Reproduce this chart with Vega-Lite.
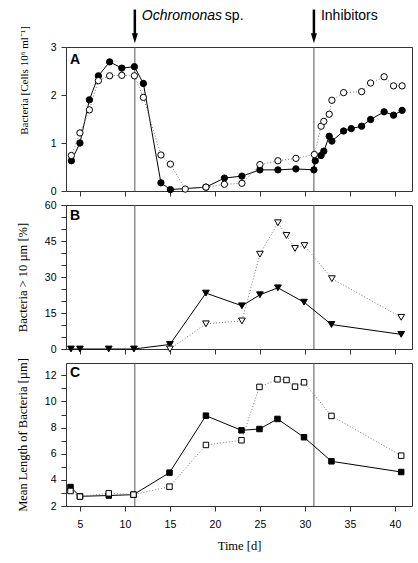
{
  "$schema": "https://vega.github.io/schema/vega-lite/v6.json",
  "padding": {"left": 15, "top": 7, "right": 12, "bottom": 10},
  "background": "white",
  "bounds": "flush",
  "spacing": 14,
  "config": {
    "view": {"stroke": "#333", "strokeWidth": 1},
    "axis": {
      "grid": false,
      "domain": false,
      "tickColor": "#333",
      "tickSize": 5,
      "labelFont": "Liberation Sans",
      "labelFontSize": 10.5,
      "labelColor": "black",
      "labelPadding": 5,
      "labelOverlap": false,
      "labelFlush": false,
      "titleFont": "Liberation Serif",
      "titleFontSize": 12.5,
      "titleFontWeight": "normal",
      "titleColor": "black"
    }
  },
  "datasets": {
    "A": [
      {"day": 4.05, "value": 0.63, "series": "filled"},
      {"day": 5.0, "value": 1.0, "series": "filled"},
      {"day": 6.05, "value": 1.9, "series": "filled"},
      {"day": 7.05, "value": 2.4, "series": "filled"},
      {"day": 8.3, "value": 2.69, "series": "filled"},
      {"day": 9.65, "value": 2.56, "series": "filled"},
      {"day": 11.05, "value": 2.59, "series": "filled"},
      {"day": 12.05, "value": 2.24, "series": "filled"},
      {"day": 14.0, "value": 0.17, "series": "filled"},
      {"day": 15.05, "value": 0.03, "series": "filled"},
      {"day": 19.0, "value": 0.08, "series": "filled"},
      {"day": 21.05, "value": 0.27, "series": "filled"},
      {"day": 23.0, "value": 0.31, "series": "filled"},
      {"day": 25.0, "value": 0.44, "series": "filled"},
      {"day": 27.0, "value": 0.44, "series": "filled"},
      {"day": 29.0, "value": 0.46, "series": "filled"},
      {"day": 31.0, "value": 0.44, "series": "filled"},
      {"day": 31.15, "value": 0.63, "series": "filled"},
      {"day": 31.8, "value": 0.74, "series": "filled"},
      {"day": 32.1, "value": 0.83, "series": "filled"},
      {"day": 32.7, "value": 1.14, "series": "filled"},
      {"day": 33.0, "value": 1.04, "series": "filled"},
      {"day": 34.3, "value": 1.25, "series": "filled"},
      {"day": 35.15, "value": 1.3, "series": "filled"},
      {"day": 36.3, "value": 1.35, "series": "filled"},
      {"day": 37.3, "value": 1.49, "series": "filled"},
      {"day": 38.8, "value": 1.65, "series": "filled"},
      {"day": 39.85, "value": 1.58, "series": "filled"},
      {"day": 40.8, "value": 1.68, "series": "filled"},
      {"day": 4.05, "value": 0.74, "series": "open"},
      {"day": 5.0, "value": 1.21, "series": "open"},
      {"day": 6.05, "value": 1.69, "series": "open"},
      {"day": 7.05, "value": 2.3, "series": "open"},
      {"day": 8.3, "value": 2.4, "series": "open"},
      {"day": 9.65, "value": 2.41, "series": "open"},
      {"day": 11.05, "value": 2.4, "series": "open"},
      {"day": 12.05, "value": 1.95, "series": "open"},
      {"day": 14.0, "value": 0.75, "series": "open"},
      {"day": 15.05, "value": 0.56, "series": "open"},
      {"day": 16.7, "value": 0.04, "series": "open"},
      {"day": 19.0, "value": 0.08, "series": "open"},
      {"day": 21.05, "value": 0.14, "series": "open"},
      {"day": 23.0, "value": 0.16, "series": "open"},
      {"day": 25.0, "value": 0.55, "series": "open"},
      {"day": 27.0, "value": 0.63, "series": "open"},
      {"day": 29.0, "value": 0.68, "series": "open"},
      {"day": 31.05, "value": 0.76, "series": "open"},
      {"day": 31.8, "value": 1.35, "series": "open"},
      {"day": 32.1, "value": 1.45, "series": "open"},
      {"day": 32.7, "value": 1.6, "series": "open"},
      {"day": 33.0, "value": 1.89, "series": "open"},
      {"day": 34.3, "value": 2.05, "series": "open"},
      {"day": 36.3, "value": 2.07, "series": "open"},
      {"day": 37.3, "value": 2.25, "series": "open"},
      {"day": 38.8, "value": 2.38, "series": "open"},
      {"day": 39.85, "value": 2.19, "series": "open"},
      {"day": 40.8, "value": 2.19, "series": "open"}
    ],
    "B": [
      {"day": 4.0, "value": 0, "series": "filled"},
      {"day": 5.0, "value": 0, "series": "filled"},
      {"day": 8.2, "value": 0, "series": "filled"},
      {"day": 11.0, "value": 0, "series": "filled"},
      {"day": 15.0, "value": 1.9, "series": "filled"},
      {"day": 19.0, "value": 23.3, "series": "filled"},
      {"day": 23.0, "value": 18.0, "series": "filled"},
      {"day": 25.0, "value": 22.6, "series": "filled"},
      {"day": 27.0, "value": 25.5, "series": "filled"},
      {"day": 29.9, "value": 19.5, "series": "filled"},
      {"day": 32.95, "value": 10.2, "series": "filled"},
      {"day": 40.7, "value": 6.1, "series": "filled"},
      {"day": 15.0, "value": 0, "series": "open"},
      {"day": 19.0, "value": 10.5, "series": "open"},
      {"day": 23.0, "value": 11.7, "series": "open"},
      {"day": 25.0, "value": 39.5, "series": "open"},
      {"day": 27.0, "value": 52.6, "series": "open"},
      {"day": 27.95, "value": 47.3, "series": "open"},
      {"day": 28.9, "value": 41.9, "series": "open"},
      {"day": 29.95, "value": 43.1, "series": "open"},
      {"day": 33.0, "value": 29.3, "series": "open"},
      {"day": 40.7, "value": 13.2, "series": "open"}
    ],
    "C": [
      {"day": 3.95, "value": 3.45, "series": "filled"},
      {"day": 5.0, "value": 2.74, "series": "filled"},
      {"day": 8.2, "value": 2.8, "series": "filled"},
      {"day": 10.95, "value": 2.87, "series": "filled"},
      {"day": 14.95, "value": 4.55, "series": "filled"},
      {"day": 19.0, "value": 8.91, "series": "filled"},
      {"day": 22.95, "value": 7.79, "series": "filled"},
      {"day": 24.95, "value": 7.89, "series": "filled"},
      {"day": 26.95, "value": 8.66, "series": "filled"},
      {"day": 29.9, "value": 7.26, "series": "filled"},
      {"day": 32.95, "value": 5.42, "series": "filled"},
      {"day": 40.7, "value": 4.6, "series": "filled"},
      {"day": 3.95, "value": 3.15, "series": "open"},
      {"day": 5.0, "value": 2.72, "series": "open"},
      {"day": 8.2, "value": 2.97, "series": "open"},
      {"day": 10.95, "value": 2.87, "series": "open"},
      {"day": 14.95, "value": 3.48, "series": "open"},
      {"day": 19.0, "value": 6.67, "series": "open"},
      {"day": 22.95, "value": 7.03, "series": "open"},
      {"day": 24.95, "value": 11.11, "series": "open"},
      {"day": 26.95, "value": 11.69, "series": "open"},
      {"day": 27.95, "value": 11.64, "series": "open"},
      {"day": 28.9, "value": 11.13, "series": "open"},
      {"day": 29.9, "value": 11.46, "series": "open"},
      {"day": 32.95, "value": 8.89, "series": "open"},
      {"day": 40.7, "value": 5.85, "series": "open"}
    ],
    "events": [
      {"day": 11.1, "top": 3.78, "shaftEnd": 3.2, "head": 3.18, "textY": 3.556, "text": "Ochromonas", "after": "sp."},
      {"day": 31.0, "top": 3.78, "shaftEnd": 3.2, "head": 3.18, "textY": 3.556, "text": "Inhibitors", "after": ""}
    ],
    "letters": [
      {"panel": "A", "day": 3.9, "value": 2.65},
      {"panel": "B", "day": 3.9, "value": 53.7},
      {"panel": "C", "day": 3.9, "value": 11.85}
    ]
  },
  "vconcat": [
    {
      "width": 346,
      "height": 144,
      "layer": [
        {
          "data": {"name": "events"},
          "mark": {"type": "rule", "color": "#555", "strokeWidth": 1},
          "encoding": {
            "x": {"field": "day", "type": "quantitative", "scale": {"domain": [3.45, 41.9], "nice": false, "zero": false},
              "axis": {"values": [5, 7.5, 10, 12.5, 15, 17.5, 20, 22.5, 25, 27.5, 30, 32.5, 35, 37.5, 40], "labels": false, "title": null}}
          }
        },
        {
          "data": {"name": "A"},
          "transform": [{"filter": "datum.series === 'filled'"}],
          "mark": {"type": "line", "color": "black", "strokeWidth": 1},
          "encoding": {
            "x": {"field": "day", "type": "quantitative"},
            "y": {"field": "value", "type": "quantitative", "scale": {"domain": [0, 3], "nice": false},
              "axis": {"values": [0, 0.5, 1, 1.5, 2, 2.5, 3], "labelOverlap": false, "labelFlush": false, "labelExpr": "datum.value % 1 === 0 ? datum.label : ''", "title": "Bacteria [Cells 10⁶ ml⁻¹]", "titleFontSize": 11, "titlePadding": 21, "titleY": 33}}
          }
        },
        {
          "data": {"name": "A"},
          "transform": [{"filter": "datum.series === 'open'"}],
          "mark": {"type": "line", "color": "#777", "strokeWidth": 1, "strokeDash": [1, 2]},
          "encoding": {
            "x": {"field": "day", "type": "quantitative"},
            "y": {"field": "value", "type": "quantitative"}
          }
        },
        {
          "data": {"name": "A"},
          "transform": [{"filter": "datum.series === 'filled'"}],
          "mark": {"type": "point", "shape": "circle", "size": 40, "filled": true, "fill": "black", "stroke": "black", "strokeWidth": 1, "opacity": 1},
          "encoding": {
            "x": {"field": "day", "type": "quantitative"},
            "y": {"field": "value", "type": "quantitative"}
          }
        },
        {
          "data": {"name": "A"},
          "transform": [{"filter": "datum.series === 'open'"}],
          "mark": {"type": "point", "shape": "circle", "size": 40, "filled": true, "fill": "white", "stroke": "black", "strokeWidth": 1, "opacity": 1},
          "encoding": {
            "x": {"field": "day", "type": "quantitative"},
            "y": {"field": "value", "type": "quantitative"}
          }
        },
        {
          "data": {"name": "events"},
          "mark": {"type": "rule", "color": "black", "strokeWidth": 2.5},
          "encoding": {
            "x": {"field": "day", "type": "quantitative"},
            "y": {"field": "top", "type": "quantitative"},
            "y2": {"field": "shaftEnd"}
          }
        },
        {
          "data": {"name": "events"},
          "mark": {"type": "point", "shape": "M-0.6,-1L0.6,-1L0,1Z", "size": 100, "filled": true, "fill": "black", "stroke": null, "opacity": 1},
          "encoding": {
            "x": {"field": "day", "type": "quantitative"},
            "y": {"field": "head", "type": "quantitative"}
          }
        },
        {
          "data": {"name": "events"},
          "transform": [{"filter": "datum.after !== ''"}],
          "mark": {"type": "text", "align": "left", "baseline": "alphabetic", "dx": 7, "font": "Liberation Sans", "fontSize": 14, "fontStyle": "italic", "color": "black"},
          "encoding": {
            "x": {"field": "day", "type": "quantitative"},
            "y": {"field": "textY", "type": "quantitative"},
            "text": {"field": "text"}
          }
        },
        {
          "data": {"name": "events"},
          "transform": [{"filter": "datum.after !== ''"}],
          "mark": {"type": "text", "align": "left", "baseline": "alphabetic", "dx": 90, "font": "Liberation Sans", "fontSize": 14, "color": "black"},
          "encoding": {
            "x": {"field": "day", "type": "quantitative"},
            "y": {"field": "textY", "type": "quantitative"},
            "text": {"field": "after"}
          }
        },
        {
          "data": {"name": "events"},
          "transform": [{"filter": "datum.after === ''"}],
          "mark": {"type": "text", "align": "left", "baseline": "alphabetic", "dx": 7, "font": "Liberation Sans", "fontSize": 14, "color": "black"},
          "encoding": {
            "x": {"field": "day", "type": "quantitative"},
            "y": {"field": "textY", "type": "quantitative"},
            "text": {"field": "text"}
          }
        },
        {
          "data": {"name": "letters"},
          "transform": [{"filter": "datum.panel === 'A'"}],
          "mark": {"type": "text", "align": "left", "baseline": "alphabetic", "font": "Liberation Sans", "fontSize": 14, "fontWeight": "bold", "color": "black"},
          "encoding": {
            "x": {"field": "day", "type": "quantitative"},
            "y": {"field": "value", "type": "quantitative"},
            "text": {"field": "panel"}
          }
        }
      ]
    },
    {
      "width": 346,
      "height": 144,
      "resolve": {"axis": {"y": "independent"}},
      "layer": [
        {
          "data": {"name": "events"},
          "mark": {"type": "rule", "color": "#555", "strokeWidth": 1},
          "encoding": {
            "x": {"field": "day", "type": "quantitative", "scale": {"domain": [3.45, 41.9], "nice": false, "zero": false},
              "axis": {"values": [5, 7.5, 10, 12.5, 15, 17.5, 20, 22.5, 25, 27.5, 30, 32.5, 35, 37.5, 40], "labels": false, "title": null}}
          }
        },
        {
          "data": {"name": "B"},
          "transform": [{"filter": "datum.series === 'filled'"}],
          "mark": {"type": "line", "color": "black", "strokeWidth": 1},
          "encoding": {
            "x": {"field": "day", "type": "quantitative"},
            "y": {"field": "value", "type": "quantitative", "scale": {"domain": [0, 60], "nice": false},
              "axis": {"orient": "left", "values": [0, 15, 30, 45, 60], "title": "Bacteria > 10 µm [%]", "titlePadding": 15}}
          }
        },
        {
          "data": {"name": "B"},
          "transform": [{"filter": "datum.series === 'open'"}],
          "mark": {"type": "line", "color": "#777", "strokeWidth": 1, "strokeDash": [1, 2]},
          "encoding": {
            "x": {"field": "day", "type": "quantitative"},
            "y": {"field": "value", "type": "quantitative",
              "axis": {"orient": "left", "values": [0, 5, 10, 15, 20, 25, 30, 35, 40, 45, 50, 55, 60], "labels": false, "title": null}}
          }
        },
        {
          "data": {"name": "B"},
          "transform": [{"filter": "datum.series === 'filled'"}],
          "mark": {"type": "point", "shape": "triangle-down", "size": 45, "filled": true, "fill": "black", "stroke": "black", "strokeWidth": 1, "opacity": 1},
          "encoding": {
            "x": {"field": "day", "type": "quantitative"},
            "y": {"field": "value", "type": "quantitative", "axis": null}
          }
        },
        {
          "data": {"name": "B"},
          "transform": [{"filter": "datum.series === 'open'"}],
          "mark": {"type": "point", "shape": "triangle-down", "size": 45, "filled": true, "fill": "white", "stroke": "black", "strokeWidth": 1, "opacity": 1},
          "encoding": {
            "x": {"field": "day", "type": "quantitative"},
            "y": {"field": "value", "type": "quantitative", "axis": null}
          }
        },
        {
          "data": {"name": "letters"},
          "transform": [{"filter": "datum.panel === 'B'"}],
          "mark": {"type": "text", "align": "left", "baseline": "alphabetic", "font": "Liberation Sans", "fontSize": 14, "fontWeight": "bold", "color": "black"},
          "encoding": {
            "x": {"field": "day", "type": "quantitative"},
            "y": {"field": "value", "type": "quantitative", "axis": null},
            "text": {"field": "panel"}
          }
        }
      ]
    },
    {
      "width": 346,
      "height": 143,
      "resolve": {"axis": {"y": "independent"}},
      "layer": [
        {
          "data": {"name": "events"},
          "mark": {"type": "rule", "color": "#555", "strokeWidth": 1},
          "encoding": {
            "x": {"field": "day", "type": "quantitative", "scale": {"domain": [3.45, 41.9], "nice": false, "zero": false},
              "axis": {"values": [5, 7.5, 10, 12.5, 15, 17.5, 20, 22.5, 25, 27.5, 30, 32.5, 35, 37.5, 40], "labelOverlap": false, "labelFlush": false, "labelExpr": "datum.value % 5 === 0 ? datum.label : ''", "labelPadding": 8, "title": "Time [d]", "titlePadding": 10}}
          }
        },
        {
          "data": {"name": "C"},
          "transform": [{"filter": "datum.series === 'filled'"}],
          "mark": {"type": "line", "color": "black", "strokeWidth": 1},
          "encoding": {
            "x": {"field": "day", "type": "quantitative"},
            "y": {"field": "value", "type": "quantitative", "scale": {"domain": [2, 12.94], "nice": false, "zero": false},
              "axis": {"orient": "left", "values": [2, 4, 6, 8, 10, 12], "title": "Mean Length of Bacteria [µm]", "titlePadding": 15}}
          }
        },
        {
          "data": {"name": "C"},
          "transform": [{"filter": "datum.series === 'open'"}],
          "mark": {"type": "line", "color": "#777", "strokeWidth": 1, "strokeDash": [1, 2]},
          "encoding": {
            "x": {"field": "day", "type": "quantitative"},
            "y": {"field": "value", "type": "quantitative",
              "axis": {"orient": "left", "values": [2, 3, 4, 5, 6, 7, 8, 9, 10, 11, 12], "labels": false, "title": null}}
          }
        },
        {
          "data": {"name": "C"},
          "transform": [{"filter": "datum.series === 'filled'"}],
          "mark": {"type": "point", "shape": "square", "size": 30, "filled": true, "fill": "black", "stroke": "black", "strokeWidth": 1, "opacity": 1},
          "encoding": {
            "x": {"field": "day", "type": "quantitative"},
            "y": {"field": "value", "type": "quantitative", "axis": null}
          }
        },
        {
          "data": {"name": "C"},
          "transform": [{"filter": "datum.series === 'open'"}],
          "mark": {"type": "point", "shape": "square", "size": 30, "filled": true, "fill": "white", "stroke": "black", "strokeWidth": 1, "opacity": 1},
          "encoding": {
            "x": {"field": "day", "type": "quantitative"},
            "y": {"field": "value", "type": "quantitative", "axis": null}
          }
        },
        {
          "data": {"name": "letters"},
          "transform": [{"filter": "datum.panel === 'C'"}],
          "mark": {"type": "text", "align": "left", "baseline": "alphabetic", "font": "Liberation Sans", "fontSize": 14, "fontWeight": "bold", "color": "black"},
          "encoding": {
            "x": {"field": "day", "type": "quantitative"},
            "y": {"field": "value", "type": "quantitative", "axis": null},
            "text": {"field": "panel"}
          }
        }
      ]
    }
  ]
}
